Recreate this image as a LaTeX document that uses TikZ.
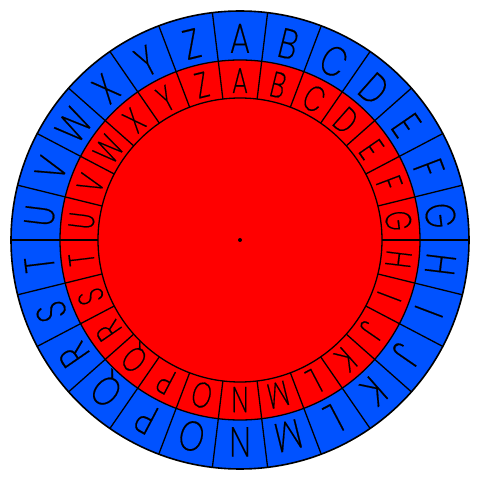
\documentclass[tikz,border=0pt]{standalone}
\usepackage{fontspec}
\newfontfamily\wheelfont{Poppins ExtraLight}[FakeStretch=0.76,FakeBold=0.4]
\newfontfamily\wheelfontin{Poppins ExtraLight}[FakeStretch=0.70,FakeBold=0.4]
\definecolor{wblue}{RGB}{0,82,255}
\definecolor{wred}{RGB}{255,0,0}
\begin{document}
\begin{tikzpicture}[x=1pt,y=1pt,
  outerletter/.style={inner sep=0pt, anchor=center, text height=29pt, text depth=0pt,
    font=\wheelfont\fontsize{42}{42}\selectfont},
  innerletter/.style={inner sep=0pt, anchor=center, text height=25pt, text depth=0pt,
    font=\wheelfontin\fontsize{36}{36}\selectfont},
  divider/.style={line width=1.3pt, black},
  rim/.style={line width=1.6pt, black}]
\useasboundingbox (0,0) rectangle (480,480);
\coordinate (c) at (240,240);
\fill[wblue] (c) circle (229);
\fill[wred] (c) circle (180);
\draw[rim] (c) circle (229);
\draw[divider] (c) circle (180);
\draw[divider] (c) circle (142);
\foreach \k in {0,...,25}{
  \pgfmathsetmacro{\a}{\k*360/26}
  \draw[divider] (c) ++(\a:142) -- ++(\a:87);
}
\foreach \L [count=\i from 0] in {A,B,C,D,E,F,G,H,I,J,K,L,M,N,O,P,Q,R,S,T,U,V,W,X,Y,Z}{
  \pgfmathsetmacro{\b}{90-\i*360/26}
  \path (c) ++(\b:201.7) node[outerletter, rotate=\b-90] (o\i) {\L};
  \path (c) ++(\b:159.5) node[innerletter, rotate=\b-90] (n\i) {\L};
}
\fill (c) circle (2);
\end{tikzpicture}
\end{document}
